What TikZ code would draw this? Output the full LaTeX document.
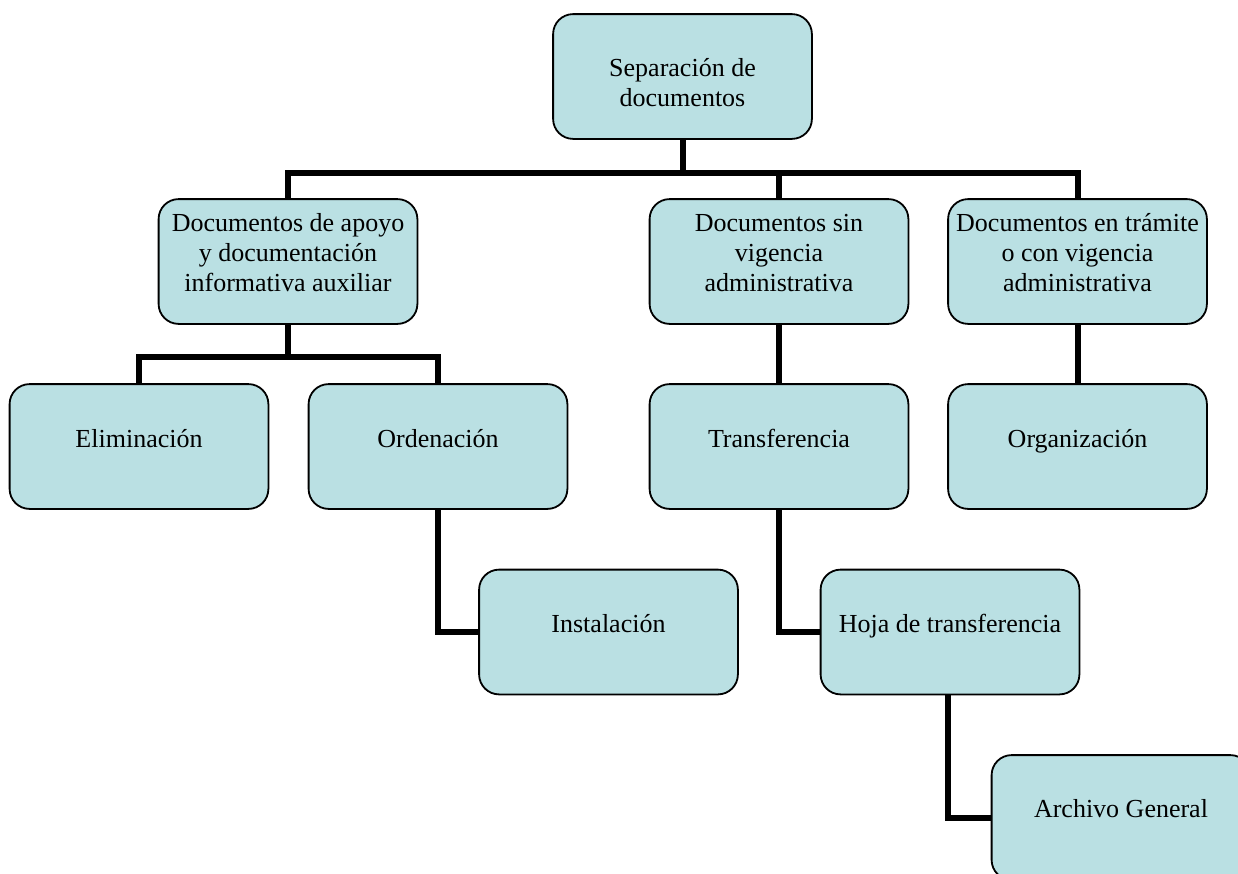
\documentclass[tikz,border=0pt]{standalone}
\usepackage{fontspec}
\setmainfont{Liberation Serif}
\definecolor{boxfill}{RGB}{186,224,227}
\begin{document}
\begin{tikzpicture}[x=1pt,y=-1pt,
  box/.style={draw=black,line width=1.8pt,fill=boxfill,rounded corners=20pt,
    minimum width=257pt,minimum height=123pt,inner sep=0pt},
  txt/.style={anchor=base,align=center,inner sep=0pt,font=\fontsize{26}{30}\selectfont},
  conn/.style={line width=6pt,line join=miter,line cap=rect}]
\useasboundingbox (0,0) rectangle (1238,873);
\coordinate (busT) at (0,173);
\coordinate (busA) at (0,357);
\node[box] (root) at (682.5,76.5) {};
\node[box] (A) at (288,261.5) {};
\node[box] (B) at (779,261.5) {};
\node[box] (C) at (1077.5,261.5) {};
\node[box] (elim) at (139,446.5) {};
\node[box] (ord) at (438,446.5) {};
\node[box] (trans) at (779,446.5) {};
\node[box] (org) at (1077.5,446.5) {};
\node[box] (inst) at (608.5,632) {};
\node[box] (hoja) at (950,632) {};
\node[box] (arch) at (1121,817.5) {};
% connectors
\draw[conn] (root.south) -- (root.south |- busT);
\draw[conn] (A.north) -- (A.north |- busT) -- (C.north |- busT) -- (C.north);
\draw[conn] (B.north) -- (B.north |- busT);
\draw[conn] (A.south) -- (A.south |- busA);
\draw[conn] (elim.north) -- (elim.north |- busA) -- (ord.north |- busA) -- (ord.north);
\draw[conn] (B.south) -- (trans.north);
\draw[conn] (C.south) -- (org.north);
\draw[conn] (ord.south) |- (inst.west);
\draw[conn] (trans.south) |- (hoja.west);
\draw[conn] ([xshift=-2pt]hoja.south) |- (arch.west);
% redraw boxes over connector ends
\foreach \n in {root,A,B,C,elim,ord,trans,org,inst,hoja,arch}{
  \draw[line width=1.8pt,fill=boxfill,rounded corners=20pt] (\n.north west) rectangle (\n.south east);
}
% texts (base = last line baseline)
\node[txt] (troot) at (682.5,106) {Separación de\\documentos};
\node[txt] (tA) at (288,291) {Documentos de apoyo\\y documentación\\informativa auxiliar};
\node[txt] (tB) at (779,291) {Documentos sin\\vigencia\\administrativa};
\node[txt] (tC) at (1077.5,291) {Documentos en trámite\\o con vigencia\\administrativa};
\node[txt] (telim) at (139,447) {Eliminación};
\node[txt] (tord) at (438,447) {Ordenación};
\node[txt] (ttrans) at (779,447) {Transferencia};
\node[txt] (torg) at (1077.5,447) {Organización};
\node[txt] (tinst) at (608.5,632) {Instalación};
\node[txt] (thoja) at (950,632) {Hoja de transferencia};
\node[txt] (tarch) at (1121,817) {Archivo General};
\end{tikzpicture}
\end{document}
